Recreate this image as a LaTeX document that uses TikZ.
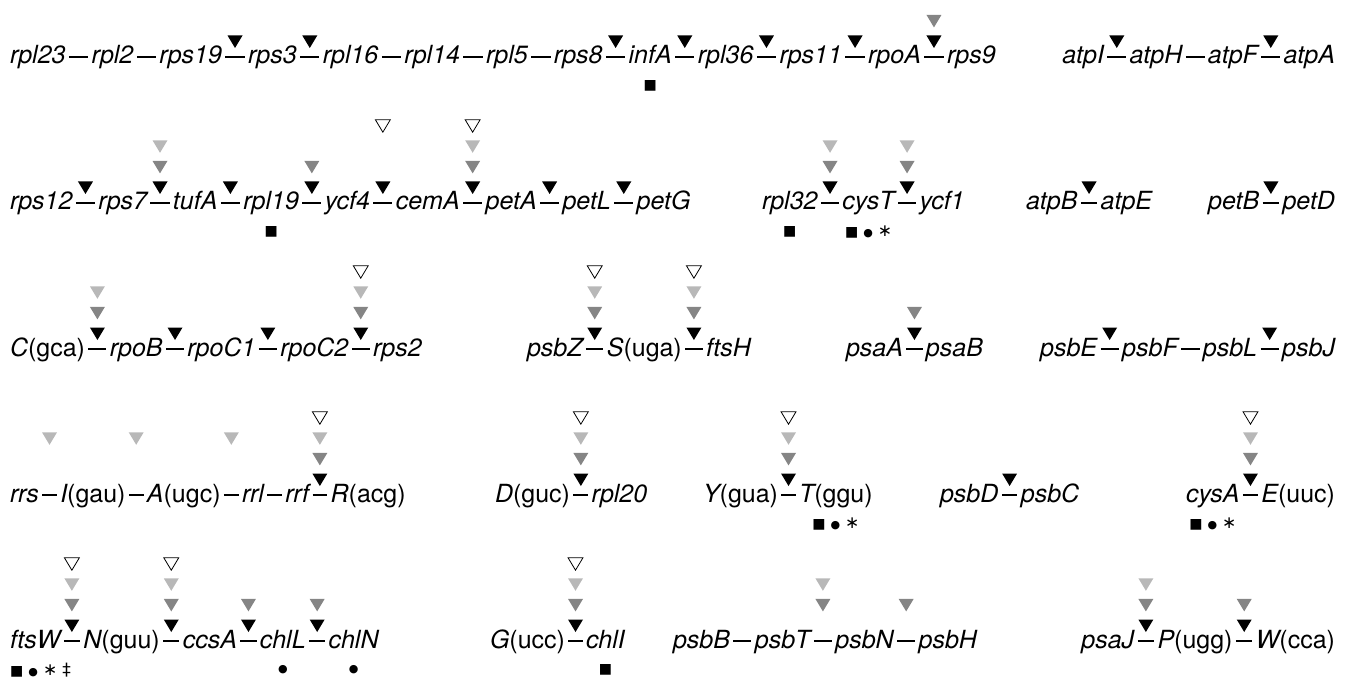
\documentclass[tikz,border=0pt]{standalone}
\usepackage{fontspec}
\setmainfont{TeX Gyre Heros}
\newfontfamily\symfont{DejaVu Sans}
\usetikzlibrary{positioning,calc}
\definecolor{dgray}{HTML}{858585}
\definecolor{lgray}{HTML}{B8B8B8}
\newcommand\gp{26pt}
\tikzset{
  gene/.style={inner sep=0pt, outer sep=0pt, anchor=base west,
    font=\fontsize{25}{30}\selectfont\itshape},
  link/.style={line width=2.2pt, shorten <=3.4pt, shorten >=3.4pt},
  blk/.style={fill=black},
  dg/.style={fill=dgray},
  lg/.style={fill=lgray},
  op/.style={draw=black, fill=white, line width=0.8pt},
  sym/.style={inner sep=0pt, font=\fontsize{14}{16}\selectfont\symfont},
}
% dash connector between two gene nodes
\newcommand\lnk[2]{%
  \draw[link] ([yshift=6.8]#1.base east) -- ([yshift=6.8]#2.base west);}
% stacked triangles above the gap between two genes
\newcommand\mks[3]{%
  \coordinate (#1-#2) at ($(#1.base east)!.5!(#2.base west)$);
  \foreach \lv/\st in {#3} {%
    \path[\st] ([yshift={16+20.6*\lv}]#1-#2) -- ++(-7.5,12.5) -- ++(15,0) -- cycle;}}
\newcommand\dotc{{\fontsize{11}{11}\selectfont●}}
\newcommand\smk{■\hspace{5pt}\dotc\hspace{5pt}{\fontsize{17}{17}\selectfont∗}}
\begin{document}
\begin{tikzpicture}[x=1pt,y=1pt]
\useasboundingbox (0,0) rectangle (1349,-687);
% ---------------- Row 1
\renewcommand\gp{26.1pt}
\node[gene] (rpl23) at (10,-64) {rpl23};
\node[gene,base right=\gp of rpl23] (rpl2) {rpl2};
\node[gene,base right=\gp of rpl2] (rps19) {rps19};
\node[gene,base right=\gp of rps19] (rps3) {rps3};
\node[gene,base right=\gp of rps3] (rpl16) {rpl16};
\node[gene,base right=\gp of rpl16] (rpl14) {rpl14};
\node[gene,base right=\gp of rpl14] (rpl5) {rpl5};
\node[gene,base right=\gp of rpl5] (rps8) {rps8};
\node[gene,base right=\gp of rps8] (infA) {infA};
\node[gene,base right=\gp of infA] (rpl36) {rpl36};
\node[gene,base right=\gp of rpl36] (rps11) {rps11};
\node[gene,base right=\gp of rps11] (rpoA) {rpoA};
\node[gene,base right=\gp of rpoA] (rps9) {rps9};
\foreach \a/\b in {rpl23/rpl2,rpl2/rps19,rps19/rps3,rps3/rpl16,rpl16/rpl14,rpl14/rpl5,rpl5/rps8,rps8/infA,infA/rpl36,rpl36/rps11,rps11/rpoA,rpoA/rps9}{\lnk{\a}{\b}}
\mks{rps19}{rps3}{0/blk}
\mks{rps3}{rpl16}{0/blk}
\mks{rps8}{infA}{0/blk}
\mks{infA}{rpl36}{0/blk}
\mks{rpl36}{rps11}{0/blk}
\mks{rps11}{rpoA}{0/blk}
\mks{rpoA}{rps9}{0/blk,1/dg}
\node[sym] (s1) at ([yshift=-22]infA.base) {■};

\renewcommand\gp{25.6pt}
\node[gene,anchor=base east] (atpA) at (1335,-64) {atpA};
\node[gene,base left=\gp of atpA] (atpF) {atpF};
\node[gene,base left=\gp of atpF] (atpH) {atpH};
\node[gene,base left=\gp of atpH] (atpI) {atpI};
\foreach \a/\b in {atpI/atpH,atpH/atpF,atpF/atpA}{\lnk{\a}{\b}}
\mks{atpI}{atpH}{0/blk}
\mks{atpF}{atpA}{0/blk}

% ---------------- Row 2
\renewcommand\gp{25.9pt}
\node[gene] (rps12) at (10,-210) {rps12};
\node[gene,base right=\gp of rps12] (rps7) {rps7};
\node[gene,base right=\gp of rps7] (tufA) {tufA};
\node[gene,base right=\gp of tufA] (rpl19) {rpl19};
\node[gene,base right=\gp of rpl19] (ycf4) {ycf4};
\node[gene,base right=\gp of ycf4] (cemA) {cemA};
\node[gene,base right=\gp of cemA] (petA) {petA};
\node[gene,base right=\gp of petA] (petL) {petL};
\node[gene,base right=\gp of petL] (petG) {petG};
\foreach \a/\b in {rps12/rps7,rps7/tufA,tufA/rpl19,rpl19/ycf4,ycf4/cemA,cemA/petA,petA/petL,petL/petG}{\lnk{\a}{\b}}
\mks{rps12}{rps7}{0/blk}
\mks{rps7}{tufA}{0/blk,1/dg,2/lg}
\mks{tufA}{rpl19}{0/blk}
\mks{rpl19}{ycf4}{0/blk,1/dg}
\mks{ycf4}{cemA}{0/blk,3/op}
\mks{cemA}{petA}{0/blk,1/dg,2/lg,3/op}
\mks{petA}{petL}{0/blk}
\mks{petL}{petG}{0/blk}
\node[sym] (s2) at ([yshift=-22]rpl19.base) {■};

\renewcommand\gp{24.9pt}
\node[gene] (rpl32) at (762,-210) {rpl32};
\node[gene,base right=\gp of rpl32] (cysT) {cysT};
\node[gene,base right=\gp of cysT] (ycf1) {ycf1};
\foreach \a/\b in {rpl32/cysT,cysT/ycf1}{\lnk{\a}{\b}}
\mks{rpl32}{cysT}{0/blk,1/dg,2/lg}
\mks{cysT}{ycf1}{0/blk,1/dg,2/lg}
\node[sym] (s3) at ([yshift=-22]rpl32.base) {■};
\node[sym] (s4) at ([yshift=-22]cysT.base) {\smk};

\renewcommand\gp{23.3pt}
\node[gene] (atpB) at (1026,-210) {atpB};
\node[gene,base right=\gp of atpB] (atpE) {atpE};
\lnk{atpB}{atpE}
\mks{atpB}{atpE}{0/blk}

\node[gene,anchor=base east] (petD) at (1335,-210) {petD};
\node[gene,base left=\gp of petD] (petB) {petB};
\lnk{petB}{petD}
\mks{petB}{petD}{0/blk}

% ---------------- Row 3
\renewcommand\gp{24.8pt}
\node[gene] (trnC) at (10,-356) {C{\upshape(gca)}};
\node[gene,base right=\gp of trnC] (rpoB) {rpoB};
\node[gene,base right=\gp of rpoB] (rpoC1) {rpoC1};
\node[gene,base right=\gp of rpoC1] (rpoC2) {rpoC2};
\node[gene,base right=\gp of rpoC2] (rps2) {rps2};
\foreach \a/\b in {trnC/rpoB,rpoB/rpoC1,rpoC1/rpoC2,rpoC2/rps2}{\lnk{\a}{\b}}
\mks{trnC}{rpoB}{0/blk,1/dg,2/lg}
\mks{rpoB}{rpoC1}{0/blk}
\mks{rpoC1}{rpoC2}{0/blk}
\mks{rpoC2}{rps2}{0/blk,1/dg,2/lg,3/op}

\renewcommand\gp{24.3pt}
\node[gene] (psbZ) at (527,-356) {psbZ};
\node[gene,base right=\gp of psbZ] (trnS) {S{\upshape(uga)}};
\node[gene,base right=\gp of trnS] (ftsH) {ftsH};
\foreach \a/\b in {psbZ/trnS,trnS/ftsH}{\lnk{\a}{\b}}
\mks{psbZ}{trnS}{0/blk,1/dg,2/lg,3/op}
\mks{trnS}{ftsH}{0/blk,1/dg,2/lg,3/op}

\renewcommand\gp{23pt}
\node[gene] (psaA) at (846,-356) {psaA};
\node[gene,base right=\gp of psaA] (psaB) {psaB};
\lnk{psaA}{psaB}
\mks{psaA}{psaB}{0/blk,1/dg}

\renewcommand\gp{25.1pt}
\node[gene,anchor=base east] (psbJ) at (1335,-356) {psbJ};
\node[gene,base left=\gp of psbJ] (psbL) {psbL};
\node[gene,base left=\gp of psbL] (psbF) {psbF};
\node[gene,base left=\gp of psbF] (psbE) {psbE};
\foreach \a/\b in {psbE/psbF,psbF/psbL,psbL/psbJ}{\lnk{\a}{\b}}
\mks{psbE}{psbF}{0/blk}
\mks{psbL}{psbJ}{0/blk}

% ---------------- Row 4
\renewcommand\gp{21.5pt}
\node[gene] (rrs) at (10,-502) {rrs};
\node[gene,base right=\gp of rrs] (trnI) {I{\upshape(gau)}};
\node[gene,base right=\gp of trnI] (trnA) {A{\upshape(ugc)}};
\node[gene,base right=\gp of trnA] (rrl) {rrl};
\node[gene,base right=\gp of rrl] (rrf) {rrf};
\node[gene,base right=\gp of rrf] (trnR) {R{\upshape(acg)}};
\foreach \a/\b in {rrs/trnI,trnI/trnA,trnA/rrl,rrl/rrf,rrf/trnR}{\lnk{\a}{\b}}
\mks{rrs}{trnI}{2/lg}
\mks{trnI}{trnA}{2/lg}
\mks{trnA}{rrl}{2/lg}
\mks{rrf}{trnR}{0/blk,1/dg,2/lg,3/op}

\renewcommand\gp{21.7pt}
\node[gene] (trnD) at (495,-502) {D{\upshape(guc)}};
\node[gene,base right=\gp of trnD] (rpl20) {rpl20};
\lnk{trnD}{rpl20}
\mks{trnD}{rpl20}{0/blk,1/dg,2/lg,3/op}

\renewcommand\gp{21pt}
\node[gene] (trnY) at (703,-502) {Y{\upshape(gua)}};
\node[gene,base right=\gp of trnY] (trnT) {T{\upshape(ggu)}};
\lnk{trnY}{trnT}
\mks{trnY}{trnT}{0/blk,1/dg,2/lg,3/op}
\node[sym] (s5) at ([yshift=-22]trnT.base) {\smk};

\renewcommand\gp{22.5pt}
\node[gene] (psbD) at (940,-502) {psbD};
\node[gene,base right=\gp of psbD] (psbC) {psbC};
\lnk{psbD}{psbC}
\mks{psbD}{psbC}{0/blk}

\renewcommand\gp{21.8pt}
\node[gene,anchor=base east] (trnE) at (1335,-502) {E{\upshape(uuc)}};
\node[gene,base left=\gp of trnE] (cysA) {cysA};
\lnk{cysA}{trnE}
\mks{cysA}{trnE}{0/blk,1/dg,2/lg,3/op}
\node[sym] (s6) at ([yshift=-22]cysA.base) {\smk};

% ---------------- Row 5
\renewcommand\gp{23pt}
\node[gene] (ftsW) at (10,-648) {ftsW};
\node[gene,base right=\gp of ftsW] (trnN) {N{\upshape(guu)}};
\node[gene,base right=\gp of trnN] (ccsA) {ccsA};
\node[gene,base right=\gp of ccsA] (chlL) {chlL};
\node[gene,base right=\gp of chlL] (chlN) {chlN};
\foreach \a/\b in {ftsW/trnN,trnN/ccsA,ccsA/chlL,chlL/chlN}{\lnk{\a}{\b}}
\mks{ftsW}{trnN}{0/blk,1/dg,2/lg,3/op}
\mks{trnN}{ccsA}{0/blk,1/dg,2/lg,3/op}
\mks{ccsA}{chlL}{0/blk,1/dg}
\mks{chlL}{chlN}{0/blk,1/dg}
\node[sym,anchor=west] (s7) at ([yshift=-22]ftsW.base west) {\smk\hspace{5pt}{\fontsize{17}{17}\selectfont‡}};
\node[sym] (s8) at ([yshift=-22]chlL.base) {\dotc};
\node[sym] (s9) at ([yshift=-22]chlN.base) {\dotc};

\renewcommand\gp{21pt}
\node[gene] (trnG) at (490,-648) {G{\upshape(ucc)}};
\node[gene,base right=\gp of trnG] (chlI) {chlI};
\lnk{trnG}{chlI}
\mks{trnG}{chlI}{0/blk,1/dg,2/lg,3/op}
\node[sym] (s10) at ([yshift=-22]chlI.base) {■};

\renewcommand\gp{24.9pt}
\node[gene] (psbB) at (673,-648) {psbB};
\node[gene,base right=\gp of psbB] (psbT) {psbT};
\node[gene,base right=\gp of psbT] (psbN) {psbN};
\node[gene,base right=\gp of psbN] (psbH) {psbH};
\foreach \a/\b in {psbB/psbT,psbT/psbN,psbN/psbH}{\lnk{\a}{\b}}
\mks{psbT}{psbN}{1/dg,2/lg}
\mks{psbN}{psbH}{1/dg}

\renewcommand\gp{23.3pt}
\node[gene,anchor=base east] (trnW) at (1335,-648) {W{\upshape(cca)}};
\node[gene,base left=\gp of trnW] (trnP) {P{\upshape(ugg)}};
\node[gene,base left=\gp of trnP] (psaJ) {psaJ};
\foreach \a/\b in {psaJ/trnP,trnP/trnW}{\lnk{\a}{\b}}
\mks{psaJ}{trnP}{0/blk,1/dg,2/lg}
\mks{trnP}{trnW}{0/blk,1/dg}
\end{tikzpicture}
\end{document}
